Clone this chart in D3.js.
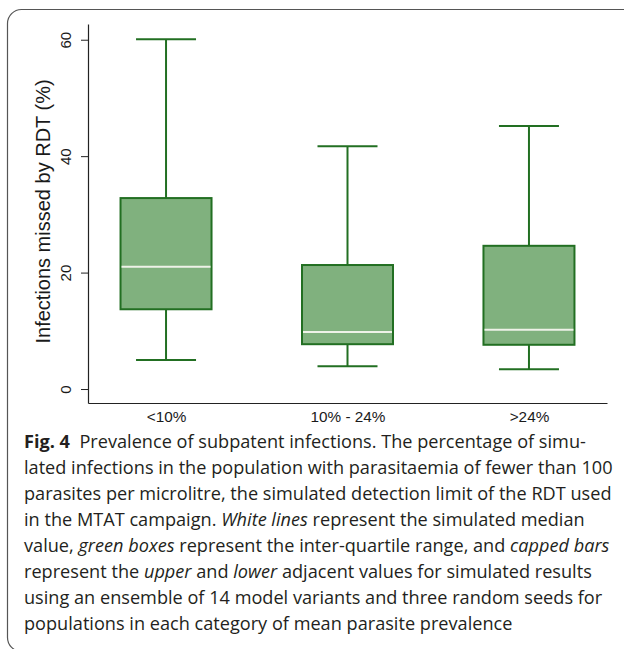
<!DOCTYPE html>
<html>
<head>
<meta charset="utf-8">
<script src="https://cdn.jsdelivr.net/npm/d3@7"></script>
<style>
  html, body { margin: 0; padding: 0; background: #fff; }
</style>
</head>
<body>
<div id="chart"></div>
<script>
// data
const categories = ["<10%", "10% - 24%", ">24%"];
const upperAdj = [60.1, 41.7, 45.2];
const q3 = [32.8, 21.3, 24.6];
const medians = [21.0, 9.8, 10.2];
const q1 = [13.7, 7.7, 7.6];
const lowerAdj = [5.0, 3.9, 3.4];
const yTicks = [0, 20, 40, 60];

const captionLines = [
  [["Fig. 4", "b"], ["  Prevalence of subpatent infections. The percentage of simu-", "n"]],
  [["lated infections in the population with parasitaemia of fewer than 100", "n"]],
  [["parasites per microlitre, the simulated detection limit of the RDT used", "n"]],
  [["in the MTAT campaign. ", "n"], ["White lines", "i"], [" represent the simulated median", "n"]],
  [["value, ", "n"], ["green boxes", "i"], [" represent the inter-quartile range, and ", "n"], ["capped bars", "i"]],
  [["represent the ", "n"], ["upper", "i"], [" and ", "n"], ["lower", "i"], [" adjacent values for simulated results", "n"]],
  [["using an ensemble of 14 model variants and three random seeds for", "n"]],
  [["populations in each category of mean parasite prevalence", "n"]]
];

const width = 624, height = 649;
const boxes = categories.map((c, i) => ({
  cat: c, hi: upperAdj[i], q3: q3[i], med: medians[i], q1: q1[i], lo: lowerAdj[i]
}));

const svg = d3.select("#chart").append("svg")
  .attr("width", width)
  .attr("height", height);

// frame round the figure
svg.append("rect")
  .attr("x", 7.5).attr("y", 9.5)
  .attr("width", 700).attr("height", 642)
  .attr("rx", 14)
  .attr("fill", "none")
  .attr("stroke", "#555")
  .attr("stroke-width", 1.2);

const x = d3.scalePoint()
  .domain(categories)
  .range([88, 607])
  .padding(0.43);

const y = d3.scaleLinear()
  .domain([-2.4, 62.7])
  .range([403, 24]);

const boxW = 91, capW = 60;
const green = "#226f22";
const axisFont = "Liberation Sans, Arial, sans-serif";

// y axis
const yAxis = svg.append("g")
  .attr("transform", "translate(88,0)")
  .call(d3.axisLeft(y).tickValues(yTicks).tickSize(7).tickSizeOuter(0));
yAxis.select(".domain").attr("stroke", "#222").attr("stroke-width", 1.2);
yAxis.selectAll(".tick line").attr("stroke", "#222").attr("stroke-width", 1);
yAxis.selectAll(".tick text")
  .attr("font-family", axisFont)
  .attr("font-size", 15)
  .attr("fill", "#1a1a1a")
  .attr("text-anchor", "middle")
  .attr("x", 0).attr("dy", 0)
  .attr("transform", "translate(-17,0) rotate(-90)");

// x axis
const xAxis = svg.append("g")
  .attr("transform", "translate(0,403)")
  .call(d3.axisBottom(x).tickSize(0).tickSizeOuter(0));
xAxis.select(".domain").attr("stroke", "#222").attr("stroke-width", 1.2);
xAxis.selectAll(".tick text")
  .attr("font-family", axisFont)
  .attr("font-size", 15.3)
  .attr("fill", "#1a1a1a")
  .attr("y", 8).attr("dy", "0.71em");

// y axis title
svg.append("text")
  .attr("transform", `translate(50,${y(30.5)}) rotate(-90)`)
  .attr("text-anchor", "middle")
  .attr("font-family", axisFont)
  .attr("font-size", 20)
  .attr("fill", "#1a1a1a")
  .text("Infections missed by RDT (%)");

// boxes
const g = svg.selectAll("g.box")
  .data(boxes)
  .join("g")
  .attr("class", "box")
  .attr("transform", d => `translate(${x(d.cat)},0)`);

g.append("line")
  .attr("y1", d => y(d.hi)).attr("y2", d => y(d.q3))
  .attr("stroke", green).attr("stroke-width", 2);
g.append("line")
  .attr("y1", d => y(d.q1)).attr("y2", d => y(d.lo))
  .attr("stroke", green).attr("stroke-width", 2);
g.append("line")
  .attr("x1", -capW / 2).attr("x2", capW / 2)
  .attr("y1", d => y(d.hi)).attr("y2", d => y(d.hi))
  .attr("stroke", green).attr("stroke-width", 2);
g.append("line")
  .attr("x1", -capW / 2).attr("x2", capW / 2)
  .attr("y1", d => y(d.lo)).attr("y2", d => y(d.lo))
  .attr("stroke", green).attr("stroke-width", 2);
g.append("rect")
  .attr("x", -boxW / 2)
  .attr("y", d => y(d.q3))
  .attr("width", boxW)
  .attr("height", d => y(d.q1) - y(d.q3))
  .attr("fill", "#80b17e")
  .attr("stroke", green)
  .attr("stroke-width", 2);
g.append("line")
  .attr("x1", -boxW / 2 + 1).attr("x2", boxW / 2 - 1)
  .attr("y1", d => y(d.med)).attr("y2", d => y(d.med))
  .attr("stroke", "#eef2e8").attr("stroke-width", 2);

// caption
const cap = svg.append("g")
  .attr("font-family", "Open Sans, Noto Sans, sans-serif")
  .attr("font-size", 18)
  .attr("fill", "#231f20");

const capText = cap.selectAll("text")
  .data(captionLines)
  .join("text")
  .attr("x", 0)
  .attr("y", (d, i) => 448 + i * 26)
  .attr("xml:space", "preserve")
  .style("white-space", "pre");

capText.selectAll("tspan")
  .data(d => d)
  .join("tspan")
  .attr("font-weight", d => d[1] === "b" ? "bold" : null)
  .attr("font-style", d => d[1] === "i" ? "italic" : null)
  .text(d => d[0]);

// squeeze the wider stand-in font to the original line length
const w2 = capText.nodes()[1].getComputedTextLength();
const sx = 589 / w2;
cap.attr("transform", `translate(24,0) scale(${sx},1)`);
</script>
</body>
</html>
